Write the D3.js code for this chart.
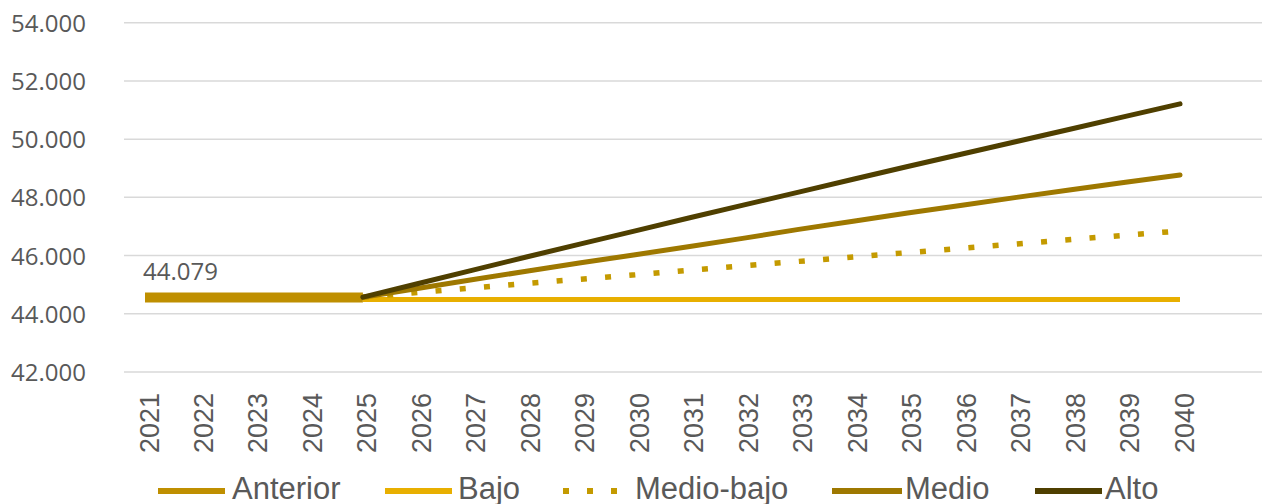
<!DOCTYPE html>
<html>
<head>
<meta charset="utf-8">
<script src="https://cdn.jsdelivr.net/npm/d3@7"></script>
<style>
  html, body { margin: 0; padding: 0; background: #ffffff; }
  svg { display: block; }
</style>
</head>
<body>
<svg id="chart" width="1262" height="504"></svg>
<script>
// ---- Data ----
const years = ["2021","2022","2023","2024","2025","2026","2027","2028","2029","2030",
               "2031","2032","2033","2034","2035","2036","2037","2038","2039","2040"];
const anterior  = [44560, 44560, 44560, 44560, 44560, null, null, null, null, null,
                   null, null, null, null, null, null, null, null, null, null];
const bajo      = [null, null, null, null, 44490, 44490, 44490, 44490, 44490, 44490,
                   44490, 44490, 44490, 44490, 44490, 44490, 44490, 44490, 44490, 44490];
const medioBajo = [null, null, null, null, 44570, 44730, 44890, 45040, 45190, 45340,
                   45500, 45650, 45800, 45950, 46100, 46250, 46400, 46550, 46700, 46845];
const medio     = [null, null, null, null, 44570, 44870, 45170, 45460, 45750, 46030,
                   46310, 46600, 46900, 47180, 47460, 47730, 48000, 48260, 48520, 48770];
const alto      = [null, null, null, null, 44570, 45030, 45490, 45950, 46400, 46850,
                   47300, 47740, 48180, 48620, 49060, 49490, 49920, 50350, 50780, 51210];
const yTicks = [42000, 44000, 46000, 48000, 50000, 52000, 54000];
const seriesNames = ["Anterior", "Bajo", "Medio-bajo", "Medio", "Alto"];
const dataLabel = "44.079";

// ---- Styles ----
const styles = {
  "Anterior":   { color: "#BF8F00", width: 10, dash: null, cap: "butt" },
  "Bajo":       { color: "#E8AF00", width: 5,  dash: null, cap: "butt" },
  "Medio-bajo": { color: "#C49A00", width: 5.5, dash: "6,18.3", cap: "butt" },
  "Medio":      { color: "#9E7800", width: 5,  dash: null, cap: "round" },
  "Alto":       { color: "#4F3F00", width: 5,  dash: null, cap: "round" }
};
const seriesValues = [anterior, bajo, medioBajo, medio, alto];

const svg = d3.select("#chart");
const x = d3.scalePoint().domain(years).range([145, 1180]);
const y = d3.scaleLinear().domain([42000, 54000]).range([372, 22.7]);

const locale = d3.formatLocale({ decimal: ",", thousands: ".", grouping: [3], currency: ["", ""] });
const fmt = locale.format(",d");

// Gridlines
svg.append("g").selectAll("line").data(yTicks).join("line")
  .attr("x1", 124).attr("x2", 1262)
  .attr("y1", d => y(d)).attr("y2", d => y(d))
  .attr("stroke", "#d9d9d9").attr("stroke-width", 1.5);

// Y axis labels
const yAxis = d3.axisLeft(y).tickValues(yTicks).tickFormat(fmt).tickSize(0).tickPadding(0);
const gy = svg.append("g").attr("transform", "translate(86,0)").call(yAxis);
gy.select(".domain").remove();
gy.selectAll("text")
  .attr("font-family", "'Open Sans', sans-serif")
  .attr("font-size", 24)
  .attr("fill", "#595959")
  .attr("dy", "0.36em");

// X axis labels (rotated)
const xAxis = d3.axisBottom(x).tickSize(0).tickPadding(0);
const gx = svg.append("g").attr("transform", "translate(0,393)").call(xAxis);
gx.select(".domain").remove();
gx.selectAll("text")
  .attr("font-family", "'Liberation Sans', Arial, sans-serif")
  .attr("font-size", 27)
  .attr("fill", "#595959")
  .attr("text-anchor", "end")
  .attr("dy", 0)
  .attr("y", 0)
  .attr("transform", "translate(13,0) rotate(-90)");

// Lines
seriesNames.forEach((name, i) => {
  const vals = seriesValues[i];
  const st = styles[name];
  const line = d3.line()
    .defined(d => d.v !== null)
    .x(d => x(d.yr))
    .y(d => y(d.v));
  const pts = years.map((yr, j) => ({ yr, v: vals[j] }));
  const p = svg.append("path")
    .datum(pts)
    .attr("d", line)
    .attr("fill", "none")
    .attr("stroke", st.color)
    .attr("stroke-width", st.width)
    .attr("stroke-linecap", st.cap)
    .attr("stroke-linejoin", "round");
  if (st.dash) p.attr("stroke-dasharray", st.dash);
});

// Data label
svg.append("text")
  .attr("x", x(years[0]) - 2)
  .attr("y", y(anterior[0]) - 17)
  .attr("font-family", "'Open Sans', sans-serif")
  .attr("font-size", 24)
  .attr("fill", "#595959")
  .text(dataLabel);

// Legend
const legendItems = [
  { name: "Anterior",   x1: 158,  x2: 225,  tx: 232 },
  { name: "Bajo",       x1: 385,  x2: 452,  tx: 458 },
  { name: "Medio-bajo", x1: 563,  x2: 617,  tx: 635 },
  { name: "Medio",      x1: 832,  x2: 902,  tx: 905 },
  { name: "Alto",       x1: 1035, x2: 1102, tx: 1105 }
];
const lg = svg.append("g");
legendItems.forEach(it => {
  const st = styles[it.name];
  const l = lg.append("line")
    .attr("x1", it.x1).attr("x2", it.x2)
    .attr("y1", 491).attr("y2", 491)
    .attr("stroke", st.color)
    .attr("stroke-width", 6);
  if (st.dash) l.attr("stroke-dasharray", "6,18");
  lg.append("text")
    .attr("x", it.tx).attr("y", 498.5)
    .attr("font-family", "'Liberation Sans', Arial, sans-serif")
    .attr("font-size", 31)
    .attr("fill", "#595959")
    .text(it.name);
});
</script>
</body>
</html>
